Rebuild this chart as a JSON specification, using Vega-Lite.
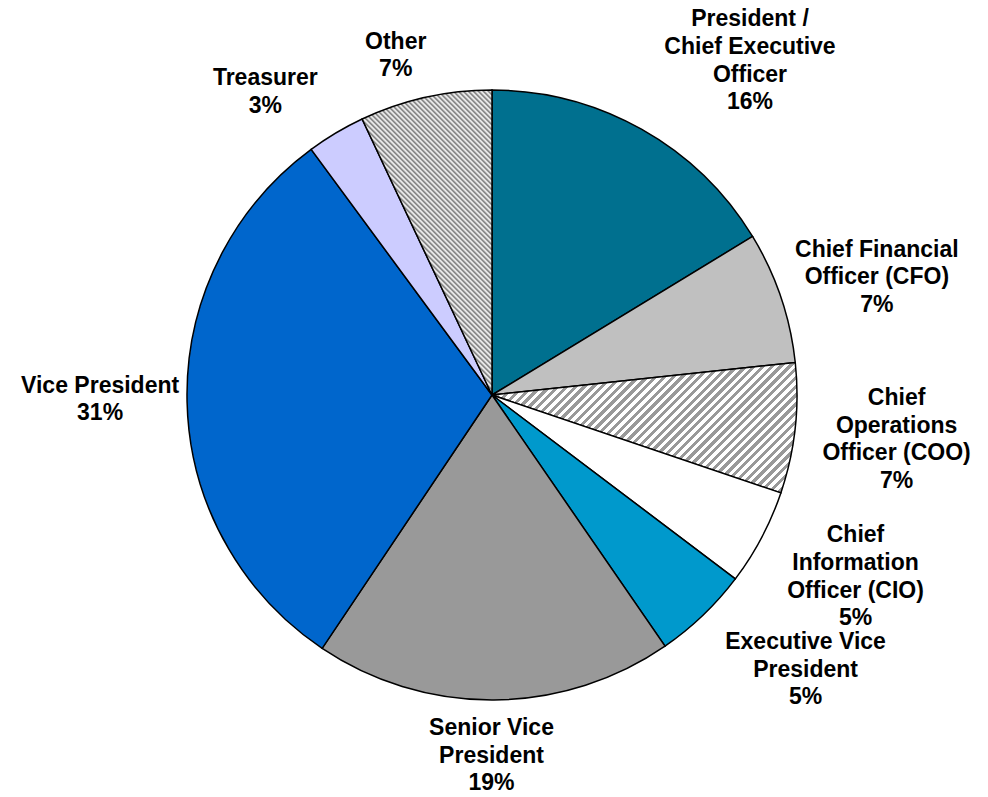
{
  "$schema": "https://vega.github.io/schema/vega-lite/v6.json",
  "width": 984,
  "height": 790,
  "autosize": "none",
  "padding": {"left": 0, "top": 0, "right": 4, "bottom": 7},
  "background": "white",
  "view": {"stroke": null},
  "config": {
    "text": {"font": "Liberation Sans", "fontSize": 23, "fontWeight": "bold", "lineBreak": "\n", "lineHeight": 27.7, "align": "center", "baseline": "middle", "fill": "#000000"}
  },
  "data": {
    "values": [
      {"role": "CEO", "label": "President /\nChief Executive\nOfficer\n16%", "value": 16.3, "order": 1},
      {"role": "CFO", "label": "Chief Financial\nOfficer (CFO)\n7%", "value": 7.0, "order": 2},
      {"role": "COO", "label": "Chief\nOperations\nOfficer (COO)\n7%", "value": 6.9, "order": 3},
      {"role": "CIO", "label": "Chief\nInformation\nOfficer (CIO)\n5%", "value": 5.1, "order": 4},
      {"role": "EVP", "label": "Executive Vice\nPresident\n5%", "value": 5.1, "order": 5},
      {"role": "SVP", "label": "Senior Vice\nPresident\n19%", "value": 19.0, "order": 6},
      {"role": "VP", "label": "Vice President\n31%", "value": 30.5, "order": 7},
      {"role": "Treasurer", "label": "Treasurer\n3%", "value": 3.1, "order": 8},
      {"role": "Other", "label": "Other\n7%", "value": 7.0, "order": 9}
    ]
  },
  "encoding": {
    "theta": {"field": "value", "type": "quantitative", "stack": true},
    "order": {"field": "order", "type": "quantitative"}
  },
  "layer": [
    {
      "mark": {"type": "arc", "radius": 305, "stroke": "#000000", "strokeWidth": 1.5},
      "encoding": {
        "fill": {
          "condition": [
            {"test": "datum.role === 'COO'", "value": {"gradient": "linear", "x1": 0, "y1": 0, "x2": 1.2197, "y2": 0.5214, "stops": [
{"offset":0,"color":"#999"},{"offset":0.01,"color":"#999"},{"offset":0.01,"color":"#fff"},{"offset":0.02,"color":"#fff"},
{"offset":0.02,"color":"#999"},{"offset":0.03,"color":"#999"},{"offset":0.03,"color":"#fff"},{"offset":0.04,"color":"#fff"},
{"offset":0.04,"color":"#999"},{"offset":0.05,"color":"#999"},{"offset":0.05,"color":"#fff"},{"offset":0.06,"color":"#fff"},
{"offset":0.06,"color":"#999"},{"offset":0.07,"color":"#999"},{"offset":0.07,"color":"#fff"},{"offset":0.08,"color":"#fff"},
{"offset":0.08,"color":"#999"},{"offset":0.09,"color":"#999"},{"offset":0.09,"color":"#fff"},{"offset":0.10,"color":"#fff"},
{"offset":0.10,"color":"#999"},{"offset":0.11,"color":"#999"},{"offset":0.11,"color":"#fff"},{"offset":0.12,"color":"#fff"},
{"offset":0.12,"color":"#999"},{"offset":0.13,"color":"#999"},{"offset":0.13,"color":"#fff"},{"offset":0.14,"color":"#fff"},
{"offset":0.14,"color":"#999"},{"offset":0.15,"color":"#999"},{"offset":0.15,"color":"#fff"},{"offset":0.16,"color":"#fff"},
{"offset":0.16,"color":"#999"},{"offset":0.17,"color":"#999"},{"offset":0.17,"color":"#fff"},{"offset":0.18,"color":"#fff"},
{"offset":0.18,"color":"#999"},{"offset":0.19,"color":"#999"},{"offset":0.19,"color":"#fff"},{"offset":0.20,"color":"#fff"},
{"offset":0.20,"color":"#999"},{"offset":0.21,"color":"#999"},{"offset":0.21,"color":"#fff"},{"offset":0.22,"color":"#fff"},
{"offset":0.22,"color":"#999"},{"offset":0.23,"color":"#999"},{"offset":0.23,"color":"#fff"},{"offset":0.24,"color":"#fff"},
{"offset":0.24,"color":"#999"},{"offset":0.25,"color":"#999"},{"offset":0.25,"color":"#fff"},{"offset":0.26,"color":"#fff"},
{"offset":0.26,"color":"#999"},{"offset":0.27,"color":"#999"},{"offset":0.27,"color":"#fff"},{"offset":0.28,"color":"#fff"},
{"offset":0.28,"color":"#999"},{"offset":0.29,"color":"#999"},{"offset":0.29,"color":"#fff"},{"offset":0.30,"color":"#fff"},
{"offset":0.30,"color":"#999"},{"offset":0.31,"color":"#999"},{"offset":0.31,"color":"#fff"},{"offset":0.32,"color":"#fff"},
{"offset":0.32,"color":"#999"},{"offset":0.33,"color":"#999"},{"offset":0.33,"color":"#fff"},{"offset":0.34,"color":"#fff"},
{"offset":0.34,"color":"#999"},{"offset":0.35,"color":"#999"},{"offset":0.35,"color":"#fff"},{"offset":0.36,"color":"#fff"},
{"offset":0.36,"color":"#999"},{"offset":0.37,"color":"#999"},{"offset":0.37,"color":"#fff"},{"offset":0.38,"color":"#fff"},
{"offset":0.38,"color":"#999"},{"offset":0.39,"color":"#999"},{"offset":0.39,"color":"#fff"},{"offset":0.40,"color":"#fff"},
{"offset":0.40,"color":"#999"},{"offset":0.41,"color":"#999"},{"offset":0.41,"color":"#fff"},{"offset":0.42,"color":"#fff"},
{"offset":0.42,"color":"#999"},{"offset":0.43,"color":"#999"},{"offset":0.43,"color":"#fff"},{"offset":0.44,"color":"#fff"},
{"offset":0.44,"color":"#999"},{"offset":0.45,"color":"#999"},{"offset":0.45,"color":"#fff"},{"offset":0.46,"color":"#fff"},
{"offset":0.46,"color":"#999"},{"offset":0.47,"color":"#999"},{"offset":0.47,"color":"#fff"},{"offset":0.48,"color":"#fff"},
{"offset":0.48,"color":"#999"},{"offset":0.49,"color":"#999"},{"offset":0.49,"color":"#fff"},{"offset":0.50,"color":"#fff"},
{"offset":0.50,"color":"#999"},{"offset":0.51,"color":"#999"},{"offset":0.51,"color":"#fff"},{"offset":0.52,"color":"#fff"},
{"offset":0.52,"color":"#999"},{"offset":0.53,"color":"#999"},{"offset":0.53,"color":"#fff"},{"offset":0.54,"color":"#fff"},
{"offset":0.54,"color":"#999"},{"offset":0.55,"color":"#999"},{"offset":0.55,"color":"#fff"},{"offset":0.56,"color":"#fff"},
{"offset":0.56,"color":"#999"},{"offset":0.57,"color":"#999"},{"offset":0.57,"color":"#fff"},{"offset":0.58,"color":"#fff"},
{"offset":0.58,"color":"#999"},{"offset":0.59,"color":"#999"},{"offset":0.59,"color":"#fff"},{"offset":0.60,"color":"#fff"},
{"offset":0.60,"color":"#999"},{"offset":0.61,"color":"#999"},{"offset":0.61,"color":"#fff"},{"offset":0.62,"color":"#fff"},
{"offset":0.62,"color":"#999"},{"offset":0.63,"color":"#999"},{"offset":0.63,"color":"#fff"},{"offset":0.64,"color":"#fff"},
{"offset":0.64,"color":"#999"},{"offset":0.65,"color":"#999"},{"offset":0.65,"color":"#fff"},{"offset":0.66,"color":"#fff"},
{"offset":0.66,"color":"#999"},{"offset":0.67,"color":"#999"},{"offset":0.67,"color":"#fff"},{"offset":0.68,"color":"#fff"},
{"offset":0.68,"color":"#999"},{"offset":0.69,"color":"#999"},{"offset":0.69,"color":"#fff"},{"offset":0.70,"color":"#fff"},
{"offset":0.70,"color":"#999"},{"offset":0.71,"color":"#999"},{"offset":0.71,"color":"#fff"},{"offset":0.72,"color":"#fff"},
{"offset":0.72,"color":"#999"},{"offset":0.73,"color":"#999"},{"offset":0.73,"color":"#fff"},{"offset":0.74,"color":"#fff"},
{"offset":0.74,"color":"#999"},{"offset":0.75,"color":"#999"},{"offset":0.75,"color":"#fff"},{"offset":0.76,"color":"#fff"},
{"offset":0.76,"color":"#999"},{"offset":0.77,"color":"#999"},{"offset":0.77,"color":"#fff"},{"offset":0.78,"color":"#fff"},
{"offset":0.78,"color":"#999"},{"offset":0.79,"color":"#999"},{"offset":0.79,"color":"#fff"},{"offset":0.80,"color":"#fff"},
{"offset":0.80,"color":"#999"},{"offset":0.81,"color":"#999"},{"offset":0.81,"color":"#fff"},{"offset":0.82,"color":"#fff"},
{"offset":0.82,"color":"#999"},{"offset":0.83,"color":"#999"},{"offset":0.83,"color":"#fff"},{"offset":0.84,"color":"#fff"},
{"offset":0.84,"color":"#999"},{"offset":0.85,"color":"#999"},{"offset":0.85,"color":"#fff"},{"offset":0.86,"color":"#fff"},
{"offset":0.86,"color":"#999"},{"offset":0.87,"color":"#999"},{"offset":0.87,"color":"#fff"},{"offset":0.88,"color":"#fff"},
{"offset":0.88,"color":"#999"},{"offset":0.89,"color":"#999"},{"offset":0.89,"color":"#fff"},{"offset":0.90,"color":"#fff"},
{"offset":0.90,"color":"#999"},{"offset":0.91,"color":"#999"},{"offset":0.91,"color":"#fff"},{"offset":0.92,"color":"#fff"},
{"offset":0.92,"color":"#999"},{"offset":0.93,"color":"#999"},{"offset":0.93,"color":"#fff"},{"offset":0.94,"color":"#fff"},
{"offset":0.94,"color":"#999"},{"offset":0.95,"color":"#999"},{"offset":0.95,"color":"#fff"},{"offset":0.96,"color":"#fff"},
{"offset":0.96,"color":"#999"},{"offset":0.97,"color":"#999"},{"offset":0.97,"color":"#fff"},{"offset":0.98,"color":"#fff"},
{"offset":0.98,"color":"#999"},{"offset":0.99,"color":"#999"},{"offset":0.99,"color":"#fff"},{"offset":1,"color":"#fff"}
            ]}},
            {"test": "datum.role === 'Other'", "value": {"gradient": "linear", "x1": 0, "y1": 1, "x2": 0.5907, "y2": -0.388, "stops": [
{"offset":0,"color":"#777"},{"offset":0.005,"color":"#fff"},{"offset":0.01,"color":"#777"},{"offset":0.015,"color":"#fff"},
{"offset":0.02,"color":"#777"},{"offset":0.025,"color":"#fff"},{"offset":0.03,"color":"#777"},{"offset":0.035,"color":"#fff"},
{"offset":0.04,"color":"#777"},{"offset":0.045,"color":"#fff"},{"offset":0.05,"color":"#777"},{"offset":0.055,"color":"#fff"},
{"offset":0.06,"color":"#777"},{"offset":0.065,"color":"#fff"},{"offset":0.07,"color":"#777"},{"offset":0.075,"color":"#fff"},
{"offset":0.08,"color":"#777"},{"offset":0.085,"color":"#fff"},{"offset":0.09,"color":"#777"},{"offset":0.095,"color":"#fff"},
{"offset":0.10,"color":"#777"},{"offset":0.105,"color":"#fff"},{"offset":0.11,"color":"#777"},{"offset":0.115,"color":"#fff"},
{"offset":0.12,"color":"#777"},{"offset":0.125,"color":"#fff"},{"offset":0.13,"color":"#777"},{"offset":0.135,"color":"#fff"},
{"offset":0.14,"color":"#777"},{"offset":0.145,"color":"#fff"},{"offset":0.15,"color":"#777"},{"offset":0.155,"color":"#fff"},
{"offset":0.16,"color":"#777"},{"offset":0.165,"color":"#fff"},{"offset":0.17,"color":"#777"},{"offset":0.175,"color":"#fff"},
{"offset":0.18,"color":"#777"},{"offset":0.185,"color":"#fff"},{"offset":0.19,"color":"#777"},{"offset":0.195,"color":"#fff"},
{"offset":0.20,"color":"#777"},{"offset":0.205,"color":"#fff"},{"offset":0.21,"color":"#777"},{"offset":0.215,"color":"#fff"},
{"offset":0.22,"color":"#777"},{"offset":0.225,"color":"#fff"},{"offset":0.23,"color":"#777"},{"offset":0.235,"color":"#fff"},
{"offset":0.24,"color":"#777"},{"offset":0.245,"color":"#fff"},{"offset":0.25,"color":"#777"},{"offset":0.255,"color":"#fff"},
{"offset":0.26,"color":"#777"},{"offset":0.265,"color":"#fff"},{"offset":0.27,"color":"#777"},{"offset":0.275,"color":"#fff"},
{"offset":0.28,"color":"#777"},{"offset":0.285,"color":"#fff"},{"offset":0.29,"color":"#777"},{"offset":0.295,"color":"#fff"},
{"offset":0.30,"color":"#777"},{"offset":0.305,"color":"#fff"},{"offset":0.31,"color":"#777"},{"offset":0.315,"color":"#fff"},
{"offset":0.32,"color":"#777"},{"offset":0.325,"color":"#fff"},{"offset":0.33,"color":"#777"},{"offset":0.335,"color":"#fff"},
{"offset":0.34,"color":"#777"},{"offset":0.345,"color":"#fff"},{"offset":0.35,"color":"#777"},{"offset":0.355,"color":"#fff"},
{"offset":0.36,"color":"#777"},{"offset":0.365,"color":"#fff"},{"offset":0.37,"color":"#777"},{"offset":0.375,"color":"#fff"},
{"offset":0.38,"color":"#777"},{"offset":0.385,"color":"#fff"},{"offset":0.39,"color":"#777"},{"offset":0.395,"color":"#fff"},
{"offset":0.40,"color":"#777"},{"offset":0.405,"color":"#fff"},{"offset":0.41,"color":"#777"},{"offset":0.415,"color":"#fff"},
{"offset":0.42,"color":"#777"},{"offset":0.425,"color":"#fff"},{"offset":0.43,"color":"#777"},{"offset":0.435,"color":"#fff"},
{"offset":0.44,"color":"#777"},{"offset":0.445,"color":"#fff"},{"offset":0.45,"color":"#777"},{"offset":0.455,"color":"#fff"},
{"offset":0.46,"color":"#777"},{"offset":0.465,"color":"#fff"},{"offset":0.47,"color":"#777"},{"offset":0.475,"color":"#fff"},
{"offset":0.48,"color":"#777"},{"offset":0.485,"color":"#fff"},{"offset":0.49,"color":"#777"},{"offset":0.495,"color":"#fff"},
{"offset":0.50,"color":"#777"},{"offset":0.505,"color":"#fff"},{"offset":0.51,"color":"#777"},{"offset":0.515,"color":"#fff"},
{"offset":0.52,"color":"#777"},{"offset":0.525,"color":"#fff"},{"offset":0.53,"color":"#777"},{"offset":0.535,"color":"#fff"},
{"offset":0.54,"color":"#777"},{"offset":0.545,"color":"#fff"},{"offset":0.55,"color":"#777"},{"offset":0.555,"color":"#fff"},
{"offset":0.56,"color":"#777"},{"offset":0.565,"color":"#fff"},{"offset":0.57,"color":"#777"},{"offset":0.575,"color":"#fff"},
{"offset":0.58,"color":"#777"},{"offset":0.585,"color":"#fff"},{"offset":0.59,"color":"#777"},{"offset":0.595,"color":"#fff"},
{"offset":0.60,"color":"#777"},{"offset":0.605,"color":"#fff"},{"offset":0.61,"color":"#777"},{"offset":0.615,"color":"#fff"},
{"offset":0.62,"color":"#777"},{"offset":0.625,"color":"#fff"},{"offset":0.63,"color":"#777"},{"offset":0.635,"color":"#fff"},
{"offset":0.64,"color":"#777"},{"offset":0.645,"color":"#fff"},{"offset":0.65,"color":"#777"},{"offset":0.655,"color":"#fff"},
{"offset":0.66,"color":"#777"},{"offset":0.665,"color":"#fff"},{"offset":0.67,"color":"#777"},{"offset":0.675,"color":"#fff"},
{"offset":0.68,"color":"#777"},{"offset":0.685,"color":"#fff"},{"offset":0.69,"color":"#777"},{"offset":0.695,"color":"#fff"},
{"offset":0.70,"color":"#777"},{"offset":0.705,"color":"#fff"},{"offset":0.71,"color":"#777"},{"offset":0.715,"color":"#fff"},
{"offset":0.72,"color":"#777"},{"offset":0.725,"color":"#fff"},{"offset":0.73,"color":"#777"},{"offset":0.735,"color":"#fff"},
{"offset":0.74,"color":"#777"},{"offset":0.745,"color":"#fff"},{"offset":0.75,"color":"#777"},{"offset":0.755,"color":"#fff"},
{"offset":0.76,"color":"#777"},{"offset":0.765,"color":"#fff"},{"offset":0.77,"color":"#777"},{"offset":0.775,"color":"#fff"},
{"offset":0.78,"color":"#777"},{"offset":0.785,"color":"#fff"},{"offset":0.79,"color":"#777"},{"offset":0.795,"color":"#fff"},
{"offset":0.80,"color":"#777"},{"offset":0.805,"color":"#fff"},{"offset":0.81,"color":"#777"},{"offset":0.815,"color":"#fff"},
{"offset":0.82,"color":"#777"},{"offset":0.825,"color":"#fff"},{"offset":0.83,"color":"#777"},{"offset":0.835,"color":"#fff"},
{"offset":0.84,"color":"#777"},{"offset":0.845,"color":"#fff"},{"offset":0.85,"color":"#777"},{"offset":0.855,"color":"#fff"},
{"offset":0.86,"color":"#777"},{"offset":0.865,"color":"#fff"},{"offset":0.87,"color":"#777"},{"offset":0.875,"color":"#fff"},
{"offset":0.88,"color":"#777"},{"offset":0.885,"color":"#fff"},{"offset":0.89,"color":"#777"},{"offset":0.895,"color":"#fff"},
{"offset":0.90,"color":"#777"},{"offset":0.905,"color":"#fff"},{"offset":0.91,"color":"#777"},{"offset":0.915,"color":"#fff"},
{"offset":0.92,"color":"#777"},{"offset":0.925,"color":"#fff"},{"offset":0.93,"color":"#777"},{"offset":0.935,"color":"#fff"},
{"offset":0.94,"color":"#777"},{"offset":0.945,"color":"#fff"},{"offset":0.95,"color":"#777"},{"offset":0.955,"color":"#fff"},
{"offset":0.96,"color":"#777"},{"offset":0.965,"color":"#fff"},{"offset":0.97,"color":"#777"},{"offset":0.975,"color":"#fff"},
{"offset":0.98,"color":"#777"},{"offset":0.985,"color":"#fff"},{"offset":0.99,"color":"#777"},{"offset":0.995,"color":"#fff"},
{"offset":1,"color":"#777"}
            ]}}
          ],
          "field": "role",
          "type": "nominal",
          "scale": {
            "domain": ["CEO", "CFO", "COO", "CIO", "EVP", "SVP", "VP", "Treasurer", "Other"],
            "range": ["#00708F", "#C0C0C0", "#CCCCCC", "#FFFFFF", "#0099CC", "#999999", "#0066CC", "#CCCCFF", "#BBBBBB"]
          },
          "legend": null
        }
      }
    },
    {
      "mark": {"type": "text", "radius": 400, "dx": 62, "dy": -27},
      "encoding": {"text": {"condition": {"test": "datum.role === 'CEO'", "field": "label"}, "value": ""}}
    },
    {
      "mark": {"type": "text", "radius": 400, "dx": 6, "dy": -17},
      "encoding": {"text": {"condition": {"test": "datum.role === 'CFO'", "field": "label"}, "value": ""}}
    },
    {
      "mark": {"type": "text", "radius": 400, "dx": 7, "dy": -41},
      "encoding": {"text": {"condition": {"test": "datum.role === 'COO'", "field": "label"}, "value": ""}}
    },
    {
      "mark": {"type": "text", "radius": 400, "dx": 10, "dy": -47},
      "encoding": {"text": {"condition": {"test": "datum.role === 'CIO'", "field": "label"}, "value": ""}}
    },
    {
      "mark": {"type": "text", "radius": 400, "dx": 37, "dy": -42},
      "encoding": {"text": {"condition": {"test": "datum.role === 'EVP'", "field": "label"}, "value": ""}}
    },
    {
      "mark": {"type": "text", "radius": 400, "dx": -3, "dy": -67},
      "encoding": {"text": {"condition": {"test": "datum.role === 'SVP'", "field": "label"}, "value": ""}}
    },
    {
      "mark": {"type": "text", "radius": 400, "dx": 8, "dy": -18},
      "encoding": {"text": {"condition": {"test": "datum.role === 'VP'", "field": "label"}, "value": ""}}
    },
    {
      "mark": {"type": "text", "radius": 400, "dx": -22, "dy": 27},
      "encoding": {"text": {"condition": {"test": "datum.role === 'Treasurer'", "field": "label"}, "value": ""}}
    },
    {
      "mark": {"type": "text", "radius": 400, "dx": -9, "dy": 37},
      "encoding": {"text": {"condition": {"test": "datum.role === 'Other'", "field": "label"}, "value": ""}}
    }
  ]
}
